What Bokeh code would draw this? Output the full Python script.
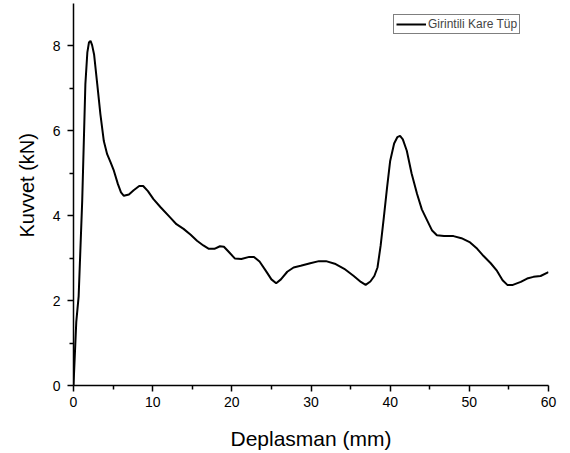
import math
from bokeh.plotting import figure
from bokeh.models import Range1d, FixedTicker, Title, Legend, LegendItem
from bokeh.embed import file_html
from bokeh.resources import INLINE

# Displacement (mm) and force (kN)
deplasman = [0, 0.35, 0.65, 1.1, 1.5, 1.75, 1.95, 2.15, 2.35, 2.6, 3.0, 3.4, 3.83, 4.25, 4.7, 5.1,
             5.6, 6.0, 6.36, 7.0, 7.6, 8.3, 8.8, 9.4, 10.1, 11.0, 12.2, 13.0, 13.9,
             14.8, 15.6, 16.4, 17.1, 17.8, 18.5, 19.0, 19.6, 20.4, 21.2, 22.2, 22.8,
             23.5, 24.3, 25.0, 25.6, 26.2, 27.0, 27.8, 28.7, 29.9, 31.0, 31.9, 33.0,
             34.2, 35.4, 36.3, 36.9, 37.5, 38.0, 38.4, 38.8, 39.2, 39.6, 40.0, 40.5,
             40.9, 41.25, 41.6, 42.1, 42.7, 43.4, 44.0, 44.7, 45.3, 45.9, 46.8, 48.0, 49.0,
             50.1, 51.0, 51.8, 52.7, 53.5, 54.2, 54.8, 55.5, 56.5, 57.3, 58.1, 59.0, 60.0]
kuvvet = [0, 1.5, 2.1, 4.35, 7.1, 7.85, 8.08, 8.12, 8.02, 7.8, 7.1, 6.39, 5.76, 5.45, 5.25, 5.06,
          4.75, 4.55, 4.47, 4.5, 4.6, 4.7, 4.7, 4.58, 4.39, 4.2, 3.96, 3.8, 3.69,
          3.55, 3.41, 3.3, 3.22, 3.22, 3.28, 3.27, 3.15, 2.99, 2.98, 3.03, 3.03,
          2.92, 2.7, 2.5, 2.41, 2.5, 2.68, 2.78, 2.82, 2.88, 2.93, 2.93, 2.87,
          2.75, 2.58, 2.44, 2.37, 2.45, 2.58, 2.78, 3.3, 3.96, 4.65, 5.29, 5.7,
          5.85, 5.88, 5.8, 5.53, 5.0, 4.51, 4.15, 3.88, 3.65, 3.54, 3.52, 3.52, 3.47,
          3.37, 3.22, 3.05, 2.88, 2.7, 2.48, 2.37, 2.37, 2.44, 2.52, 2.56, 2.58, 2.67]

x_ticks = [0, 10, 20, 30, 40, 50, 60]
x_minor = [5, 15, 25, 35, 45, 55]
y_ticks = [0, 2, 4, 6, 8]
y_minor = [1, 3, 5, 7]
series_name = "Girintili Kare Tüp"

FONT = "Liberation Sans"

p = figure(width=570, height=453, output_backend="svg", toolbar_location=None,
           x_range=Range1d(0, 60), y_range=Range1d(0, 9),
           min_border_left=73, min_border_right=22, min_border_top=3,
           min_border_bottom=68)
p.outline_line_color = None
p.xgrid.visible = False
p.ygrid.visible = False
p.background_fill_color = "white"
p.border_fill_color = "white"

r = p.line(deplasman, kuvvet, line_color="black", line_width=2)

for ax in (p.xaxis[0], p.yaxis[0]):
    ax.axis_line_width = 1.5
    ax.axis_line_color = "black"
    ax.major_tick_line_color = "black"
    ax.minor_tick_line_color = "black"
    ax.major_tick_line_width = 1.5
    ax.minor_tick_line_width = 1.5
    ax.major_tick_in = 0
    ax.major_tick_out = 6
    ax.minor_tick_in = 0
    ax.minor_tick_out = 4
    ax.major_label_text_font = FONT
    ax.major_label_text_font_size = "14px"
    ax.major_label_text_color = "black"

p.xaxis.ticker = FixedTicker(ticks=x_ticks, minor_ticks=x_minor)
p.yaxis.ticker = FixedTicker(ticks=y_ticks, minor_ticks=y_minor)
p.xaxis.major_label_standoff = 5
p.yaxis.major_label_standoff = 7

p.xaxis.axis_label = "Deplasman (mm)"
p.xaxis.axis_label_text_font = FONT
p.xaxis.axis_label_text_font_size = "21px"
p.xaxis.axis_label_text_font_style = "normal"
p.xaxis.axis_label_text_color = "black"
p.xaxis.axis_label_standoff = 17

ytitle = Title(text="Kuvvet (kN)", align="left", offset=148, standoff=24,
               text_font=FONT, text_font_size="20px", text_font_style="normal",
               text_color="black")
p.add_layout(ytitle, "left")

legend = Legend(items=[LegendItem(label=series_name, renderers=[r])],
                location=(320, 351), padding=2, margin=0, spacing=0,
                glyph_width=30, glyph_height=14, label_standoff=2,
                label_text_font=FONT, label_text_font_size="12px",
                label_height=14,
                border_line_color="black", border_line_width=1,
                background_fill_alpha=1.0)
p.add_layout(legend)

open("out.html", "w").write(file_html(p, INLINE))
